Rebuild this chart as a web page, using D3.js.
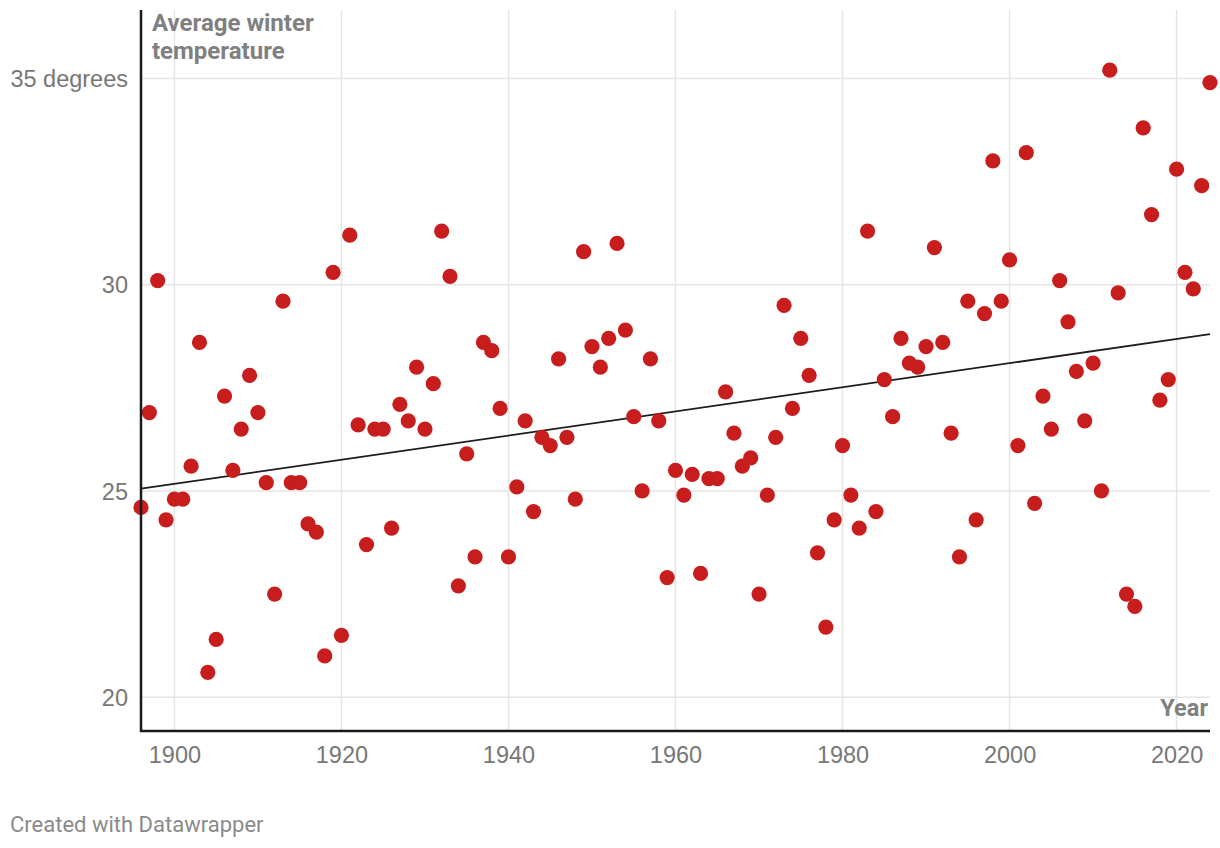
<!DOCTYPE html>
<html>
<head>
<meta charset="utf-8">
<script src="https://cdn.jsdelivr.net/npm/d3@7"></script>
<style>
  body { margin: 0; background: #fff; }
  svg { font-family: Roboto, "Noto Sans", sans-serif; }
</style>
</head>
<body>
<svg id="chart" width="1220" height="848"></svg>
<script>
// winter average temperature per year
const years = [
  1896, 1897, 1898, 1899,
  1900, 1901, 1902, 1903, 1904, 1905, 1906, 1907, 1908, 1909,
  1910, 1911, 1912, 1913, 1914, 1915, 1916, 1917, 1918, 1919,
  1920, 1921, 1922, 1923, 1924, 1925, 1926, 1927, 1928, 1929,
  1930, 1931, 1932, 1933, 1934, 1935, 1936, 1937, 1938, 1939,
  1940, 1941, 1942, 1943, 1944, 1945, 1946, 1947, 1948, 1949,
  1950, 1951, 1952, 1953, 1954, 1955, 1956, 1957, 1958, 1959,
  1960, 1961, 1962, 1963, 1964, 1965, 1966, 1967, 1968, 1969,
  1970, 1971, 1972, 1973, 1974, 1975, 1976, 1977, 1978, 1979,
  1980, 1981, 1982, 1983, 1984, 1985, 1986, 1987, 1988, 1989,
  1990, 1991, 1992, 1993, 1994, 1995, 1996, 1997, 1998, 1999,
  2000, 2001, 2002, 2003, 2004, 2005, 2006, 2007, 2008, 2009,
  2010, 2011, 2012, 2013, 2014, 2015, 2016, 2017, 2018, 2019,
  2020, 2021, 2022, 2023, 2024
]
const temps = [
  24.6, 26.9, 30.1, 24.3,
  24.8, 24.8, 25.6, 28.6, 20.6, 21.4, 27.3, 25.5, 26.5, 27.8,
  26.9, 25.2, 22.5, 29.6, 25.2, 25.2, 24.2, 24.0, 21.0, 30.3,
  21.5, 31.2, 26.6, 23.7, 26.5, 26.5, 24.1, 27.1, 26.7, 28.0,
  26.5, 27.6, 31.3, 30.2, 22.7, 25.9, 23.4, 28.6, 28.4, 27.0,
  23.4, 25.1, 26.7, 24.5, 26.3, 26.1, 28.2, 26.3, 24.8, 30.8,
  28.5, 28.0, 28.7, 31.0, 28.9, 26.8, 25.0, 28.2, 26.7, 22.9,
  25.5, 24.9, 25.4, 23.0, 25.3, 25.3, 27.4, 26.4, 25.6, 25.8,
  22.5, 24.9, 26.3, 29.5, 27.0, 28.7, 27.8, 23.5, 21.7, 24.3,
  26.1, 24.9, 24.1, 31.3, 24.5, 27.7, 26.8, 28.7, 28.1, 28.0,
  28.5, 30.9, 28.6, 26.4, 23.4, 29.6, 24.3, 29.3, 33.0, 29.6,
  30.6, 26.1, 33.2, 24.7, 27.3, 26.5, 30.1, 29.1, 27.9, 26.7,
  28.1, 25.0, 35.2, 29.8, 22.5, 22.2, 33.8, 31.7, 27.2, 27.7,
  32.8, 30.3, 29.9, 32.4, 34.9
]
const xTicks = [1900, 1920, 1940, 1960, 1980, 2000, 2020]
const yTicks = [20, 25, 30, 35]

const svg = d3.select("#chart")
const plotLeft = 141, plotRight = 1210, plotTop = 10, plotBottom = 731
const textColor = "#777"

const x = d3.scaleLinear().domain([1896, 2024]).range([plotLeft, plotRight])
const y = d3.scaleLinear().domain([19.18, 36.66]).range([plotBottom, plotTop])

// grid
svg.append("g")
  .selectAll("line")
  .data(yTicks)
  .join("line")
    .attr("x1", plotLeft).attr("x2", plotRight)
    .attr("y1", d => y(d)).attr("y2", d => y(d))
    .attr("stroke", "#e5e5e5").attr("stroke-width", 1.5)

svg.append("g")
  .selectAll("line")
  .data(xTicks)
  .join("line")
    .attr("x1", d => x(d)).attr("x2", d => x(d))
    .attr("y1", plotTop).attr("y2", plotBottom)
    .attr("stroke", "#e5e5e5").attr("stroke-width", 1.5)

// axis labels
const yAxis = svg.append("g")
  .attr("transform", `translate(${plotLeft - 13},0)`)
  .call(d3.axisLeft(y).tickValues(yTicks).tickSize(0).tickPadding(0)
    .tickFormat(d => d === 35 ? "35 degrees" : d))
yAxis.select(".domain").remove()
yAxis.selectAll("text")
  .attr("fill", textColor)
  .style("font-size", "23.5px")
  .attr("dy", "0.35em")

const xAxis = svg.append("g")
  .attr("transform", `translate(0,${plotBottom + 14})`)
  .call(d3.axisBottom(x).tickValues(xTicks).tickSize(0).tickPadding(0)
    .tickFormat(d3.format("d")))
xAxis.select(".domain").remove()
xAxis.selectAll("text")
  .attr("fill", textColor)
  .style("font-size", "23.5px")
  .attr("dy", "0.76em")

// trend line (least squares fit)
const mx = d3.mean(years), my = d3.mean(temps)
const slope = d3.sum(years, (v, i) => (v - mx) * (temps[i] - my)) / d3.sum(years, v => (v - mx) ** 2)
const fit = v => my + slope * (v - mx)
svg.append("line")
  .attr("x1", x(1896)).attr("y1", y(fit(1896)))
  .attr("x2", x(2024)).attr("y2", y(fit(2024)))
  .attr("stroke", "#1d1d1d").attr("stroke-width", 1.8)

// points
svg.append("g")
  .selectAll("circle")
  .data(years)
  .join("circle")
    .attr("cx", d => x(d))
    .attr("cy", (d, i) => y(temps[i]))
    .attr("r", 7.6)
    .attr("fill", "#c71e1d")

// axis lines
svg.append("line")
  .attr("x1", plotLeft).attr("x2", plotLeft).attr("y1", plotTop).attr("y2", plotBottom + 1)
  .attr("stroke", "#1a1a1a").attr("stroke-width", 2.5)
svg.append("line")
  .attr("x1", plotLeft - 1).attr("x2", plotRight).attr("y1", plotBottom).attr("y2", plotBottom)
  .attr("stroke", "#1a1a1a").attr("stroke-width", 2.5)

// titles
const yTitle = svg.append("text")
  .attr("x", 152).attr("y", 31)
  .attr("fill", "#808080")
  .style("font-size", "24px").style("font-weight", "bold")
yTitle.append("tspan").attr("x", 152).text("Average winter")
yTitle.append("tspan").attr("x", 152).attr("dy", 28).text("temperature")

svg.append("text")
  .attr("x", 1208).attr("y", 716)
  .attr("text-anchor", "end")
  .attr("fill", "#808080")
  .style("font-size", "23.5px").style("font-weight", "bold")
  .text("Year")

svg.append("text")
  .attr("x", 10).attr("y", 832)
  .attr("fill", "#8a8a8a")
  .style("font-size", "22px")
  .text("Created with Datawrapper")
</script>
</body>
</html>
